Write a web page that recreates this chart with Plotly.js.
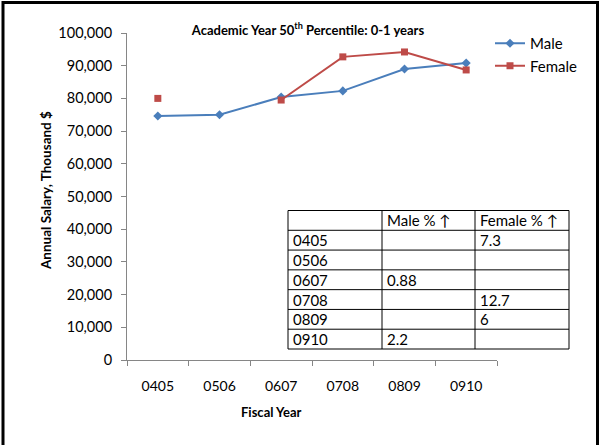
<!DOCTYPE html>
<html>
<head>
<meta charset="utf-8">
<script src="https://cdn.plot.ly/plotly-3.0.1.min.js"></script>
<style>html,body{margin:0;padding:0;background:#fff;}#chart{width:603px;height:445px;}</style>
</head>
<body>
<div id="chart"></div>
<script>
// ---- data ----
const years = ['0405', '0506', '0607', '0708', '0809', '0910'];
const maleSalary = [74600, 75000, 80400, 82300, 89000, 90800];
const femaleSalary = [80000, null, 79500, 92700, 94200, 88700];
const tableHeader = ['', 'Male % \u2191', 'Female % \u2191'];
const malePct = ['', '', '0.88', '', '', '2.2'];
const femalePct = ['7.3', '', '', '12.7', '6', ''];
const yTickVals = [0, 10000, 20000, 30000, 40000, 50000, 60000, 70000, 80000, 90000, 100000];

const FONT = 'Lato, "Open Sans", sans-serif';
const W = 603, H = 445, L = 127, R = 28, T = 33, B = 85;
const PW = W - L - R, PH = H - T - B;
const px = x => (x - L) / PW;
const py = y => (H - B - y) / PH;

// table geometry (pixels)
const colEdges = [288, 382, 475, 569];
const tTop = 210.5, tBottom = 349;
const nRows = years.length + 1;
const rowH = (tBottom - tTop) / nRows;

const shapes = [];
const annotations = [];

// table lines
shapes.push({type: 'rect', xref: 'paper', yref: 'paper',
  x0: px(colEdges[0]), x1: px(colEdges[3]), y0: py(tBottom), y1: py(tTop),
  line: {color: '#000', width: 1}, fillcolor: '#fff', layer: 'above'});
for (let i = 1; i < nRows; i++) {
  const yy = py(tTop + i * rowH);
  shapes.push({type: 'line', xref: 'paper', yref: 'paper',
    x0: px(colEdges[0]), x1: px(colEdges[3]), y0: yy, y1: yy,
    line: {color: '#000', width: 1}, layer: 'above'});
}
for (let j = 1; j < 3; j++) {
  shapes.push({type: 'line', xref: 'paper', yref: 'paper',
    x0: px(colEdges[j]), x1: px(colEdges[j]), y0: py(tBottom), y1: py(tTop),
    line: {color: '#000', width: 1}, layer: 'above'});
}
// table texts
const tableCols = [[tableHeader[0]].concat(years), [tableHeader[1]].concat(malePct), [tableHeader[2]].concat(femalePct)];
tableCols.forEach((col, j) => {
  col.forEach((txt, i) => {
    if (txt === '') return;
    annotations.push({text: txt, xref: 'paper', yref: 'paper',
      x: px(colEdges[j] + 3), y: py(tTop + (i + 0.5) * rowH),
      xanchor: 'left', yanchor: 'middle', showarrow: false,
      font: {family: FONT, size: 15, color: '#000'}});
  });
});

// axis titles
annotations.push({text: '<b>Fiscal Year</b>', xref: 'paper', yref: 'paper',
  x: px(271), y: py(412), xanchor: 'center', yanchor: 'middle', showarrow: false,
  font: {family: FONT, size: 13, color: '#000'}});
annotations.push({text: '<b>Annual Salary, Thousand $</b>', xref: 'paper', yref: 'paper',
  x: px(46), y: py(191), xanchor: 'center', yanchor: 'middle', showarrow: false, textangle: -90,
  font: {family: FONT, size: 13.5, color: '#000'}});

// outer frame
shapes.push({type: 'rect', xref: 'paper', yref: 'paper',
  x0: px(3), x1: px(597.5), y0: py(460), y1: py(2.5),
  line: {color: '#000', width: 3}, fillcolor: 'rgba(0,0,0,0)', layer: 'above'});

const traces = [
  {
    type: 'scatter', mode: 'lines+markers', name: 'Male',
    x: years, y: maleSalary,
    line: {color: '#4A7EBB', width: 2},
    marker: {symbol: 'diamond', size: 7, color: '#4A7EBB'}
  },
  {
    type: 'scatter', mode: 'lines+markers', name: 'Female',
    x: years, y: femaleSalary, connectgaps: false,
    line: {color: '#BE4B48', width: 2},
    marker: {symbol: 'square', size: 7, color: '#BE4B48'}
  }
];

const layout = {
  width: W, height: H,
  margin: {l: L, r: R, t: T, b: B, autoexpand: false},
  paper_bgcolor: '#fff', plot_bgcolor: '#fff',
  font: {family: FONT, size: 13, color: '#000'},
  title: {
    text: '<b>Academic Year 50<sup>th</sup> Percentile: 0-1 years</b>',
    font: {family: FONT, size: 13, color: '#000'},
    x: px(308), xref: 'paper', xanchor: 'center',
    y: 1 - 30 / H, yref: 'container', yanchor: 'middle'
  },
  xaxis: {
    domain: [0, 370 / PW], type: 'category', range: [-0.5, 5.5],
    showline: true, linecolor: '#868686', linewidth: 1,
    ticks: 'outside', tickson: 'boundaries', ticklen: 5, tickcolor: '#868686',
    ticklabelstandoff: 13, showgrid: false, zeroline: false,
    tickfont: {family: FONT, size: 14, color: '#000'}
  },
  yaxis: {
    range: [0, 100000], tickvals: yTickVals, tickformat: ',',
    showline: true, linecolor: '#868686', linewidth: 1,
    ticks: 'outside', ticklen: 5, tickcolor: '#868686',
    ticklabelstandoff: 6, showgrid: false, zeroline: false,
    tickfont: {family: FONT, size: 14.5, color: '#000'}
  },
  annotations: annotations,
  shapes: shapes,
  legend: {
    x: px(490), y: py(27), xanchor: 'left', yanchor: 'top',
    font: {family: FONT, size: 15, color: '#000'},
    bgcolor: 'rgba(0,0,0,0)', tracegroupgap: 0
  }
};

Plotly.newPlot('chart', traces, layout, {staticPlot: true, displayModeBar: false});
</script>
</body>
</html>
